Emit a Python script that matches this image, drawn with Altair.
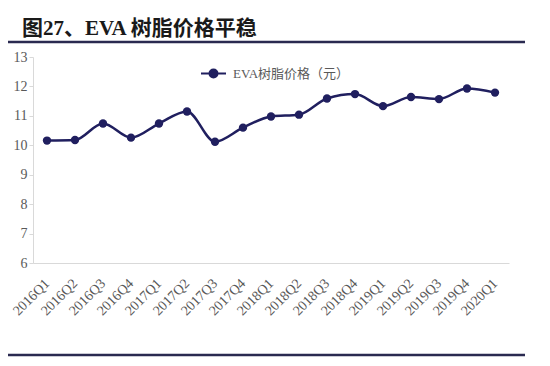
import altair as alt
import pandas as pd

quarters = ["2016Q1", "2016Q2", "2016Q3", "2016Q4", "2017Q1", "2017Q2", "2017Q3", "2017Q4",
            "2018Q1", "2018Q2", "2018Q3", "2018Q4", "2019Q1", "2019Q2", "2019Q3", "2019Q4", "2020Q1"]
prices = [10.16, 10.18, 10.74, 10.26, 10.74, 11.15, 10.12, 10.60,
          10.98, 11.04, 11.59, 11.74, 11.33, 11.64, 11.57, 11.93, 11.79]
series_name = "EVA树脂价格（元）"
y_ticks = [6, 7, 8, 9, 10, 11, 12, 13]

NAVY = "#201f5f"
GRAY_TXT = "#595959"
AXIS_GRAY = "#d9d9d9"
SERIF = "Liberation Serif, Noto Sans CJK SC"

df = pd.DataFrame({"quarter": quarters, "price": prices, "series": series_name})

x_enc = alt.X("quarter:O", sort=quarters, title=None,
              axis=alt.Axis(labelAngle=-45, labelAlign="right", labelBaseline="middle",
                            labelPadding=18, ticks=False, domainColor=AXIS_GRAY,
                            labelFont=SERIF, labelFontSize=14, labelColor=GRAY_TXT))
y_enc = alt.Y("price:Q", title=None,
              scale=alt.Scale(domain=[6, 13], nice=False, zero=False),
              axis=alt.Axis(values=y_ticks, grid=False, domainColor=AXIS_GRAY,
                            tickColor=AXIS_GRAY, tickSize=4, labelPadding=2,
                            labelFont=SERIF, labelFontSize=14, labelColor=GRAY_TXT))

base = alt.Chart(df)
line = base.mark_line(color=NAVY, strokeWidth=2.5, interpolate="monotone").encode(x=x_enc, y=y_enc)
points = base.mark_point(filled=True, size=70, opacity=1).encode(
    x=x_enc, y=y_enc,
    color=alt.Color("series:N", scale=alt.Scale(range=[NAVY]),
                    legend=alt.Legend(title=None, orient="none", legendX=167, legendY=3,
                                      padding=0,
                                      symbolType="M-1,0L1,0M-0.32,0A0.32,0.32,0,1,1,0.32,0A0.32,0.32,0,1,1,-0.32,0Z",
                                      symbolSize=625, symbolStrokeWidth=2,
                                      symbolStrokeColor=NAVY, symbolFillColor=NAVY,
                                      labelFont=SERIF, labelFontSize=13, labelColor=GRAY_TXT,
                                      labelOffset=6))
)

one = alt.Chart(pd.DataFrame({"k": [0]}))
top_rule = one.mark_rule(color="#2a2a50", strokeWidth=2.5).encode(
    x=alt.value(-25), x2=alt.value(497), y=alt.value(-15))
bottom_rule = one.mark_rule(color="#2a2a50", strokeWidth=2.5).encode(
    x=alt.value(-25), x2=alt.value(497), y=alt.value(298))

chart = alt.layer(line, points, top_rule, bottom_rule).properties(
    width=476, height=206,
    title=alt.TitleParams("图27、EVA 树脂价格平稳", anchor="start", frame="group",
                          font=SERIF, fontSize=21, fontWeight="bold", color="#1a1a1a",
                          dx=-11, offset=2),
    autosize=alt.AutoSizeParams(type="none"),
    padding={"left": 25, "top": 49, "right": 16, "bottom": 95},
).configure_view(stroke=None)

chart.save("out.html", embed_options={"renderer": "svg", "actions": False})
